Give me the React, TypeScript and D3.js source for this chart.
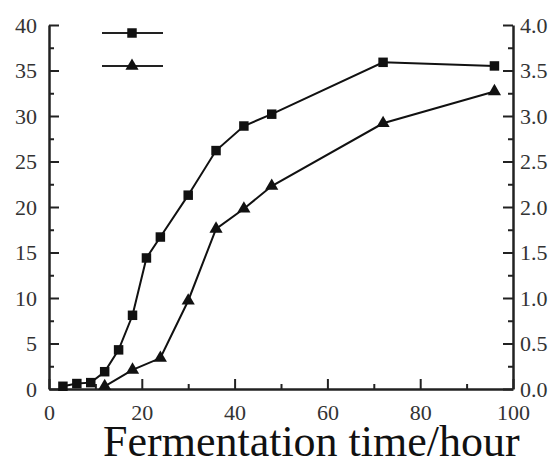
import * as d3 from "d3";
import React from "react";

// fermentation time (hour)
const timeSquare = [3, 6, 9, 12, 15, 18, 21, 24, 30, 36, 42, 48, 72, 96];
const valueSquare = [0.3, 0.6, 0.7, 1.9, 4.3, 8.1, 14.4, 16.7, 21.3, 26.2, 28.9, 30.2, 35.9, 35.5];
const timeTriangle = [12, 18, 24, 30, 36, 42, 48, 72, 96];
const valueTriangle = [0.03, 0.21, 0.34, 0.97, 1.76, 1.98, 2.23, 2.92, 3.27];

const leftTicks = [0, 5, 10, 15, 20, 25, 30, 35, 40];
const rightTicks = [0, 0.5, 1, 1.5, 2, 2.5, 3, 3.5, 4];
const xTicks = [0, 20, 40, 60, 80, 100];
const xLabel = "Fermentation time/hour";

export default function App() {
  const ref = React.useRef<HTMLDivElement>(null);

  React.useEffect(() => {
    if (!ref.current) return;
    ref.current.innerHTML = "";
    const W = 560;
    const H = 459;
    const margin = { left: 49, right: 47, top: 25, bottom: 70 };

    const svg = d3
      .select(ref.current)
      .append("svg")
      .attr("width", W)
      .attr("height", H)
      .style("position", "absolute")
      .style("left", "0px")
      .style("top", "0px")
      .style("background", "#fff");

    const x = d3.scaleLinear().domain([0, 100]).range([margin.left, W - margin.right]);
    const yL = d3.scaleLinear().domain([0, 40]).range([H - margin.bottom, margin.top]);
    const yR = d3.scaleLinear().domain([0, 4]).range([H - margin.bottom, margin.top]);

    const font = "Liberation Serif, DejaVu Serif, Times New Roman, serif";
    const axisColor = "#222";

    const styleAxis = (g: any) => {
      g.attr("font-family", font).attr("font-size", 22);
      g.select(".domain").attr("stroke", axisColor).attr("stroke-width", 2.5);
      g.selectAll(".tick line").attr("stroke", axisColor).attr("stroke-width", 2);
      g.selectAll(".tick text").attr("fill", "#333");
    };
    const styleMinor = (g: any) => {
      g.select(".domain").remove();
      g.selectAll(".tick line").attr("stroke", axisColor).attr("stroke-width", 2);
      g.selectAll("text").remove();
    };

    // minor ticks
    const halfs = (arr: number[]) => arr.slice(0, -1).map((v, i) => (v + arr[i + 1]) / 2);
    svg
      .append("g")
      .attr("transform", `translate(${margin.left},0)`)
      .call(d3.axisLeft(yL).tickValues(halfs(leftTicks)).tickSizeInner(-5).tickSizeOuter(0))
      .call(styleMinor);
    svg
      .append("g")
      .attr("transform", `translate(${W - margin.right},0)`)
      .call(d3.axisRight(yR).tickValues(halfs(rightTicks)).tickSizeInner(-5).tickSizeOuter(0))
      .call(styleMinor);
    svg
      .append("g")
      .attr("transform", `translate(0,${H - margin.bottom})`)
      .call(d3.axisBottom(x).tickValues(halfs(xTicks)).tickSizeInner(-5).tickSizeOuter(0))
      .call(styleMinor);

    // major axes
    svg
      .append("g")
      .attr("transform", `translate(${margin.left},0)`)
      .call(d3.axisLeft(yL).tickValues(leftTicks).tickSizeInner(-10).tickSizeOuter(0).tickPadding(12))
      .call(styleAxis);
    svg
      .append("g")
      .attr("transform", `translate(${W - margin.right},0)`)
      .call(
        d3
          .axisRight(yR)
          .tickValues(rightTicks)
          .tickFormat(d3.format(".1f"))
          .tickSizeInner(-10)
          .tickSizeOuter(0)
          .tickPadding(7)
      )
      .call(styleAxis);
    svg
      .append("g")
      .attr("transform", `translate(0,${H - margin.bottom})`)
      .call(d3.axisBottom(x).tickValues(xTicks).tickSizeInner(-10).tickSizeOuter(0).tickPadding(15))
      .call(styleAxis);

    // x axis title
    svg
      .append("text")
      .attr("x", 103)
      .attr("y", 456)
      .attr("text-anchor", "start")
      .attr("font-family", font)
      .attr("font-size", 44)
      .attr("fill", "#111")
      .text(xLabel);

    // lines
    const sq = timeSquare.map((t, i) => [x(t), yL(valueSquare[i])] as [number, number]);
    const tr = timeTriangle.map((t, i) => [x(t), yR(valueTriangle[i])] as [number, number]);
    const line = d3.line();
    svg.append("path").attr("d", line(sq)).attr("fill", "none").attr("stroke", "#111").attr("stroke-width", 2);
    svg.append("path").attr("d", line(tr)).attr("fill", "none").attr("stroke", "#111").attr("stroke-width", 2);

    const squareSym = d3.symbol().type(d3.symbolSquare).size(90);
    const triSym = d3.symbol().type(d3.symbolTriangle).size(75);

    svg
      .selectAll(".sq")
      .data(sq)
      .enter()
      .append("path")
      .attr("d", squareSym)
      .attr("transform", (d) => `translate(${d[0]},${d[1]})`)
      .attr("fill", "#111");
    svg
      .selectAll(".tr")
      .data(tr)
      .enter()
      .append("path")
      .attr("d", triSym)
      .attr("transform", (d) => `translate(${d[0]},${d[1]})`)
      .attr("fill", "#111");

    // legend (no labels)
    const legend = [
      { y: 33, sym: squareSym },
      { y: 66, sym: triSym },
    ];
    legend.forEach((l) => {
      svg
        .append("line")
        .attr("x1", 102)
        .attr("x2", 163)
        .attr("y1", l.y)
        .attr("y2", l.y)
        .attr("stroke", "#222")
        .attr("stroke-width", 2);
      svg
        .append("path")
        .attr("d", l.sym)
        .attr("transform", `translate(132,${l.y})`)
        .attr("fill", "#111");
    });
  }, []);

  return <div ref={ref}></div>;
}
